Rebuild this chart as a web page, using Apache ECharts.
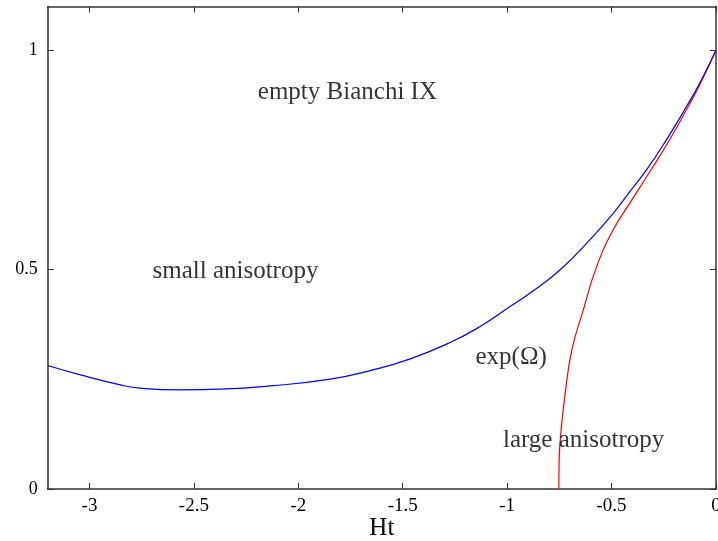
<!DOCTYPE html>
<html>
<head>
<meta charset="utf-8">
<script src="https://cdn.jsdelivr.net/npm/echarts@6/dist/echarts.min.js"></script>
<style>
  html, body { margin: 0; padding: 0; background: #fff; }
  #chart { width: 718px; height: 541px; }
</style>
</head>
<body>
<div id="chart"></div>
<script>
// blue boundary: [Ht, value]
const blueCurve = [
  [-3.2, 0.2815], [-3.043, 0.260], [-2.852, 0.2374], [-2.756, 0.2299],
  [-2.565, 0.226], [-2.373, 0.2276], [-2.134, 0.235], [-1.847, 0.2504],
  [-1.656, 0.270], [-1.464, 0.2968], [-1.273, 0.334], [-1.129, 0.3706],
  [-0.986, 0.416], [-0.890, 0.4468], [-0.746, 0.5], [-0.603, 0.5685],
  [-0.491, 0.629], [-0.411, 0.679], [-0.332, 0.728], [-0.236, 0.797],
  [-0.140, 0.873], [-0.077, 0.926], [0, 1.0]
];
// red boundary
const redCurve = [
  [-0.7526, 0], [-0.752, 0.03], [-0.751, 0.066], [-0.743, 0.127],
  [-0.722, 0.2185], [-0.690, 0.317], [-0.635, 0.409], [-0.571, 0.5076],
  [-0.491, 0.592], [-0.411, 0.653], [-0.308, 0.730], [-0.220, 0.798],
  [-0.132, 0.873], [-0.077, 0.922], [0, 1.0]
];
const xTicks = [-3, -2.5, -2, -1.5, -1, -0.5, 0];
const yTicks = [0, 0.5, 1];
const regionLabels = [
  { text: "empty Bianchi IX", at: [-1.765, 0.904] },
  { text: "small anisotropy", at: [-2.301, 0.497] },
  { text: "exp(Ω)", at: [-0.981, 0.301] },
  { text: "large anisotropy", at: [-0.634, 0.110] }
];

const font = "Liberation Serif";
const axisColor = "#333";

const E = echarts.init(document.getElementById("chart"));
const baseX = {
  type: "value", min: -3.2, max: 0,
  axisLine: { show: true, onZero: false, lineStyle: { color: axisColor, width: 1.5 } },
  axisTick: { show: true, inside: true, length: 6, customValues: xTicks, lineStyle: { color: axisColor, width: 1 } },
  splitLine: { show: false }
};
const baseY = {
  type: "value", min: 0, max: 1.1,
  axisLine: { show: true, onZero: false, lineStyle: { color: axisColor, width: 1.5 } },
  axisTick: { show: true, inside: true, length: 6, customValues: yTicks, lineStyle: { color: axisColor, width: 1 } },
  splitLine: { show: false }
};
E.setOption({
  animation: false,
  grid: { left: 47.7, right: 2, top: 6.5, bottom: 52, containLabel: false, outerBoundsMode: "none" },
  xAxis: [
    Object.assign({}, baseX, {
      position: "bottom",
      name: "Ht", nameLocation: "middle", nameGap: 27, nameMoveOverlap: false,
      nameTextStyle: { fontFamily: font, fontSize: 25, color: "#000" },
      axisLabel: { customValues: xTicks, fontFamily: font, fontSize: 19, color: "#000", margin: 8,
        formatter: (v) => String(v) }
    }),
    Object.assign({}, baseX, { position: "top", axisLabel: { show: false } })
  ],
  yAxis: [
    Object.assign({}, baseY, {
      position: "left",
      axisLabel: { customValues: yTicks, fontFamily: font, fontSize: 18, color: "#000", margin: 10,
        formatter: (v) => String(v) }
    }),
    Object.assign({}, baseY, { position: "right", axisLabel: { show: false } })
  ],
  series: [
    {
      type: "line", data: redCurve, smooth: 0.5, symbol: "none",
      lineStyle: { color: "#ff0000", width: 1.2 }, z: 2
    },
    {
      type: "line", data: blueCurve, smooth: 0.5, symbol: "none",
      lineStyle: { color: "#0000ff", width: 1.2 }, z: 3
    },
    {
      type: "scatter", symbolSize: 0, silent: true, z: 4,
      data: regionLabels.map((d) => ({ value: d.at, name: d.text })),
      label: {
        show: true, position: "inside", formatter: (p) => p.name,
        fontFamily: font, fontSize: 25, color: "#000"
      }
    }
  ]
});
</script>
</body>
</html>
